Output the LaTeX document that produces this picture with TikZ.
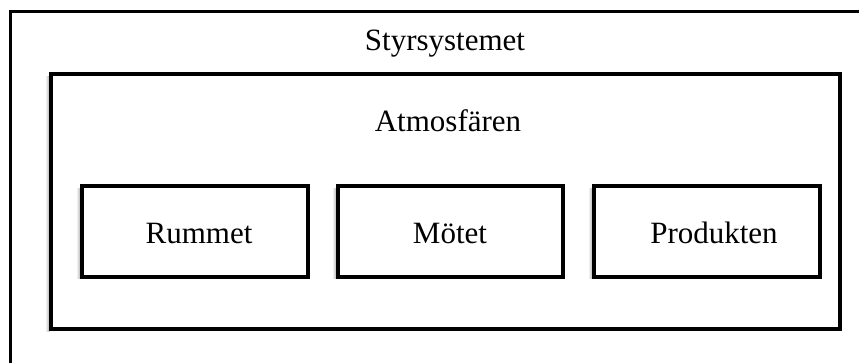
\documentclass[tikz,border=0pt]{standalone}
\usepackage{fontspec}
\setmainfont{Liberation Serif}
\begin{document}
\begin{tikzpicture}[x=1pt,y=-1pt,
  frame/.style={draw=black, line width=#1, fill=none, inner sep=0pt, outer sep=0pt, anchor=north west},
  softshadow/.style={left color=white, right color=black!35, shading angle=90},
  label/.style={font=\fontsize{31}{36}\selectfont, anchor=base, inner sep=0pt}]
  \useasboundingbox (0,0) rectangle (859,363);
  \clip (0,0) rectangle (859,363);
  \fill[white] (0,0) rectangle (859,363);

  % outer system frame, running past the right and bottom edges
  \node[frame=3pt, minimum width=900pt, minimum height=400pt] (sys) at (10,12) {};
  % soft shadows along the left edges
  \shade[left color=white, right color=black!30] (45,77) rectangle (49.5,331);
  \shade[left color=white, right color=black!30] (76,189) rectangle (80.5,279);
  \shade[left color=white, right color=black!30] (332,189) rectangle (336.5,279);
  \shade[left color=white, right color=black!30] (588,189) rectangle (592.5,279);
  % atmosphere frame
  \node[frame=3.5pt, minimum width=789pt, minimum height=255pt] (atm) at (51,74) {};
  % the three parts
  \node[frame=4pt, minimum width=226pt, minimum height=91pt] (rum) at (82,186) {};
  \node[frame=4pt, minimum width=225pt, minimum height=91pt] (mote) at (338,186) {};
  \node[frame=4pt, minimum width=226pt, minimum height=91pt] (prod) at (594,186) {};

  \node[label] (sysl) at (445,51) {Styrsystemet};
  \node[label] (atml) at (448,132) {Atmosfären};
  \node[label] (rums) at (199,244) {Rummet};
  \node[label] (motl) at (450,244) {Mötet};
  \node[label] (prol) at (714,244) {Produkten};
\end{tikzpicture}
\end{document}
